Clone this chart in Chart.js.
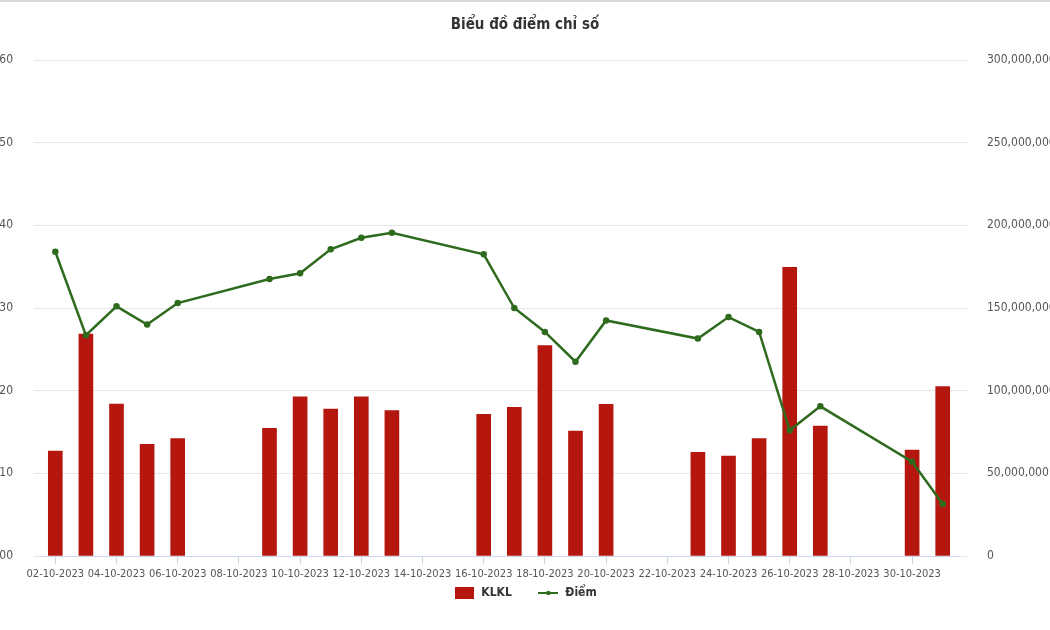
<!DOCTYPE html>
<html>
<head>
<meta charset="utf-8">
<script src="https://cdn.jsdelivr.net/npm/chart.js@4.4.1/dist/chart.umd.min.js"></script>
<style>
  html, body { margin: 0; padding: 0; background: #fff; }
  #wrap { position: relative; width: 1050px; height: 630px; overflow: hidden; border-top: 2px solid #d8d8d8; box-sizing: border-box; }
  #chart { position: absolute; left: -20px; top: 0; }
</style>
</head>
<body>
<div id="wrap"><canvas id="chart" width="1090" height="628"></canvas></div>
<script>
var uiFont = '"DejaVu Sans Condensed", "Liberation Sans Narrow", Arial, sans-serif';

var days = [
  '02-10-2023', '03-10-2023', '04-10-2023', '05-10-2023', '06-10-2023', '07-10-2023',
  '08-10-2023', '09-10-2023', '10-10-2023', '11-10-2023', '12-10-2023', '13-10-2023',
  '14-10-2023', '15-10-2023', '16-10-2023', '17-10-2023', '18-10-2023', '19-10-2023',
  '20-10-2023', '21-10-2023', '22-10-2023', '23-10-2023', '24-10-2023', '25-10-2023',
  '26-10-2023', '27-10-2023', '28-10-2023', '29-10-2023', '30-10-2023', '31-10-2023'
];

// khoi luong khop lenh (co phieu), null = ngay nghi
var klkl = [
  63500000, 134300000, 91900000, 67600000, 71000000, null,
  null, 77200000, 96300000, 88800000, 96300000, 88000000,
  null, null, 85700000, 89900000, 127200000, 75600000,
  91700000, null, null, 62700000, 60500000, 71000000,
  174600000, 78600000, null, null, 64100000, 102400000
];

// diem chi so
var diem = [
  236.8, 226.7, 230.2, 228.0, 230.6, null,
  null, 233.5, 234.2, 237.1, 238.5, 239.1,
  null, null, 236.5, 230.0, 227.1, 223.5,
  228.5, null, null, 226.3, 228.9, 227.1,
  215.2, 218.1, null, null, 211.4, 206.3
];

var leftTicks = [200, 210, 220, 230, 240, 250, 260];
var rightTicks = [0, 50000000, 100000000, 150000000, 200000000, 250000000, 300000000];

function legendIcon(kind) {
	var c = document.createElement('canvas');
	c.width = kind == 'bar' ? 19 : 20;
	c.height = 12;
	var g = c.getContext('2d');
	if (kind == 'bar') {
		g.fillStyle = '#b5170f';
		g.fillRect(0, 0, 19, 12);
	} else {
		g.strokeStyle = '#2e6b1e';
		g.lineWidth = 2;
		g.beginPath(); g.moveTo(0, 6); g.lineTo(20, 6); g.stroke();
		g.fillStyle = '#2e6b1e';
		g.beginPath(); g.arc(10, 6, 2.2, 0, Math.PI * 2); g.fill();
	}
	return c;
}
var icons = [legendIcon('bar'), legendIcon('line')];

var ctx = document.getElementById('chart').getContext('2d');
var myChart = new Chart(ctx, {
	data: {
		labels: days,
		datasets: [
			{
				type: 'line',
				label: 'Điểm',
				data: diem,
				yAxisID: 'yLeft',
				borderColor: '#2e6b1e',
				backgroundColor: '#2e6b1e',
				borderWidth: 2.5,
				pointRadius: 2,
				pointHoverRadius: 2,
				spanGaps: true,
				tension: 0,
				order: 1
			},
			{
				type: 'bar',
				label: 'KLKL',
				data: klkl,
				yAxisID: 'yRight',
				backgroundColor: '#b5170f',
				borderColor: '#b5170f',
				barThickness: 14,
				order: 2
			}
		]
	},
	options: {
		responsive: false,
		animation: false,
		layout: { padding: { left: 0, right: 0, top: 0, bottom: 21 } },
		plugins: {
			title: {
				display: true,
				text: 'Biểu đồ điểm chỉ số',
				color: '#333',
				font: { family: uiFont, size: 15, weight: 'bold' },
				padding: { top: 14, bottom: 26 }
			},
			legend: {
				position: 'bottom',
				reverse: true,
				labels: {
					usePointStyle: true,
					pointStyleWidth: 22,
					boxHeight: 12,
					padding: 3,
					color: '#333',
					font: { family: uiFont, size: 12, weight: 'bold' },
					generateLabels: function(chart) {
						var items = Chart.defaults.plugins.legend.labels.generateLabels(chart);
						items.forEach(function(it) {
							if (it.datasetIndex == 1) {
								it.pointStyle = icons[0];
								it.text = it.text + '      ';
							} else {
								it.pointStyle = icons[1];
							}
						});
						return items;
					}
				}
			},
			tooltip: { enabled: false }
		},
		scales: {
			x: {
				offset: true,
				afterFit: function(s) { s.height = 28; },
				grid: { display: true, drawOnChartArea: false, drawTicks: true, tickLength: 8, offset: false, color: '#ccd6eb' },
				border: { color: '#ccd6eb' },
				ticks: {
					autoSkip: false,
					maxRotation: 0,
					padding: 4,
					color: '#555',
					font: { family: uiFont, size: 11 },
					callback: function(v, i) { return i % 2 == 0 ? days[i] : null; }
				}
			},
			yLeft: {
				position: 'left',
				min: 200,
				max: 260,
				afterBuildTicks: function(s) { s.ticks = leftTicks.map(function(v) { return { value: v }; }); },
				afterFit: function(s) { s.width = 60; },
				grid: { color: '#e6e6e6', tickLength: 6 },
				border: { display: false },
				ticks: { color: '#555', padding: 21, font: { family: uiFont, size: 12 } }
			},
			yRight: {
				position: 'right',
				min: 0,
				max: 300000000,
				afterBuildTicks: function(s) { s.ticks = rightTicks.map(function(v) { return { value: v }; }); },
				afterFit: function(s) { s.width = 112; },
				grid: { drawOnChartArea: false, color: '#e6e6e6', tickLength: 10 },
				border: { display: false },
				ticks: {
					color: '#555',
					padding: 19,
					font: { family: uiFont, size: 12 },
					callback: function(v) { return v.toLocaleString('en-US'); }
				}
			}
		}
	}
});
</script>
</body>
</html>
